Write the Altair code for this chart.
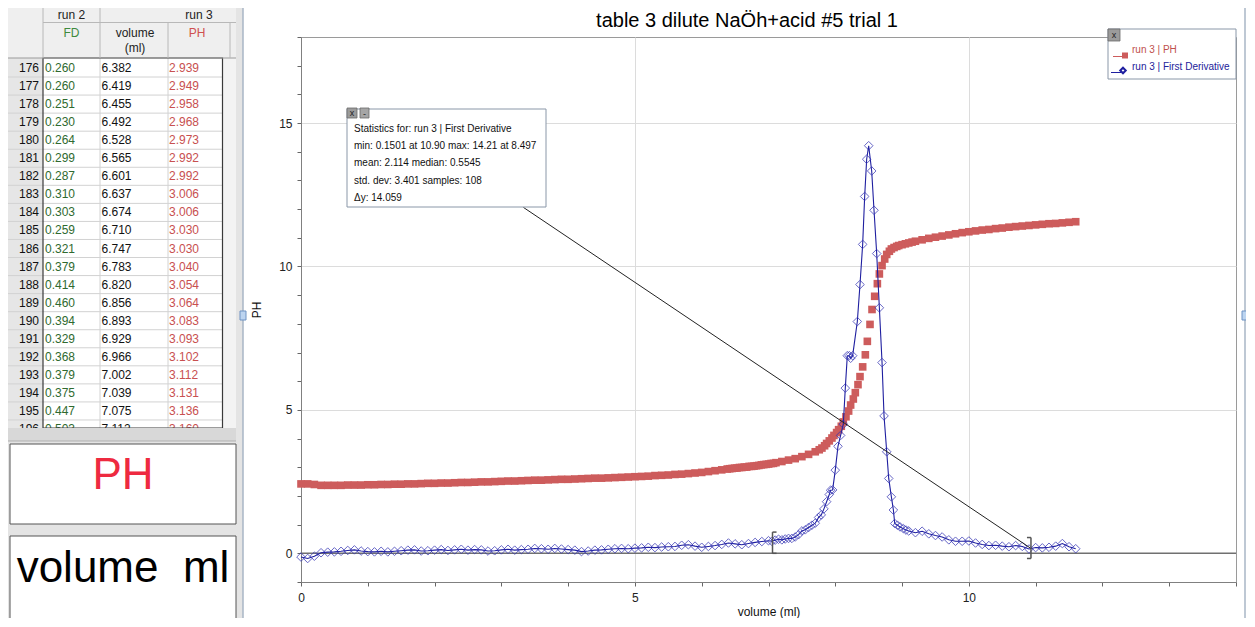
import altair as alt
import pandas as pd

# ---------------- data ----------------
ph_volume = [
    0.0, 0.1, 0.2, 0.3, 0.4, 0.5, 0.6, 0.7, 0.8, 0.9,
    1.0, 1.1, 1.2, 1.3, 1.4, 1.5, 1.6, 1.7, 1.8, 1.9,
    2.0, 2.1, 2.2, 2.3, 2.4, 2.5, 2.6, 2.7, 2.8, 2.9,
    3.0, 3.1, 3.2, 3.3, 3.4, 3.5, 3.6, 3.7, 3.8, 3.9,
    4.0, 4.1, 4.2, 4.3, 4.4, 4.5, 4.6, 4.7, 4.8, 4.9,
    5.0, 5.1, 5.2, 5.3, 5.4, 5.5, 5.6, 5.7, 5.8, 5.9,
    6.0, 6.1, 6.2, 6.3,
    6.382, 6.419, 6.455, 6.492, 6.528, 6.565, 6.601, 6.637, 6.674, 6.710,
    6.747, 6.783, 6.820, 6.856, 6.893, 6.929, 6.966, 7.002, 7.039, 7.075, 7.112,
    7.2, 7.3, 7.4, 7.5, 7.6, 7.7, 7.76, 7.80, 7.84, 7.87, 7.91, 7.95, 7.98,
    8.02, 8.05, 8.09, 8.12, 8.16, 8.20, 8.23, 8.27, 8.30, 8.34, 8.37, 8.41,
    8.45, 8.48, 8.52, 8.55, 8.59, 8.63, 8.66, 8.70, 8.74, 8.77, 8.81, 8.84,
    8.88, 8.92, 8.95, 9.0, 9.05, 9.1, 9.15, 9.2,
    9.3, 9.4, 9.5, 9.6, 9.7, 9.8, 9.9, 10.0, 10.1, 10.2, 10.3, 10.4,
    10.5, 10.6, 10.7, 10.8, 10.9, 11.0, 11.1, 11.2, 11.3, 11.4, 11.5, 11.6,
]
ph_values = [
    2.42, 2.42, 2.40, 2.37, 2.37, 2.37, 2.37, 2.38, 2.38, 2.38,
    2.39, 2.39, 2.40, 2.40, 2.41, 2.41, 2.42, 2.42, 2.43, 2.44,
    2.44, 2.45, 2.45, 2.46, 2.47, 2.47, 2.48, 2.49, 2.49, 2.50,
    2.51, 2.52, 2.52, 2.53, 2.54, 2.55, 2.55, 2.56, 2.57, 2.58,
    2.58, 2.59, 2.60, 2.61, 2.62, 2.62, 2.63, 2.64, 2.65, 2.66,
    2.67, 2.68, 2.69, 2.71, 2.72, 2.73, 2.75, 2.76, 2.78, 2.80,
    2.82, 2.85, 2.88, 2.91,
    2.939, 2.949, 2.958, 2.968, 2.973, 2.992, 2.992, 3.006, 3.006, 3.030,
    3.030, 3.040, 3.054, 3.064, 3.083, 3.093, 3.102, 3.112, 3.131, 3.136, 3.160,
    3.20, 3.25, 3.30, 3.37, 3.45, 3.54, 3.61, 3.67, 3.75, 3.83, 3.92, 4.02, 4.11,
    4.21, 4.31, 4.43, 4.58, 4.76, 4.96, 5.17, 5.38, 5.60, 5.88, 6.16, 6.50,
    6.92, 7.39, 7.98, 8.50, 8.96, 9.40, 9.74, 10.03, 10.26, 10.42, 10.53, 10.61,
    10.66, 10.70, 10.73, 10.76, 10.79, 10.82, 10.85, 10.88,
    10.93, 10.98, 11.02, 11.06, 11.10, 11.14, 11.18, 11.21, 11.24, 11.27, 11.29, 11.32,
    11.34, 11.37, 11.39, 11.41, 11.43, 11.45, 11.47, 11.49, 11.50, 11.52, 11.54, 11.56,
]

fd_volume = [
    0.0, 0.1, 0.2, 0.3, 0.4, 0.5, 0.6, 0.7, 0.8, 0.9,
    1.0, 1.1, 1.2, 1.3, 1.4, 1.5, 1.6, 1.7, 1.8, 1.9,
    2.0, 2.1, 2.2, 2.3, 2.4, 2.5, 2.6, 2.7, 2.8, 2.9,
    3.0, 3.1, 3.2, 3.3, 3.4, 3.5, 3.6, 3.7, 3.8, 3.9,
    4.0, 4.1, 4.2, 4.3, 4.4, 4.5, 4.6, 4.7, 4.8, 4.9,
    5.0, 5.1, 5.2, 5.3, 5.4, 5.5, 5.6, 5.7, 5.8, 5.9,
    6.0, 6.1, 6.2, 6.3, 6.4, 6.5, 6.6, 6.7, 6.8, 6.9, 7.0,
    7.05, 7.1, 7.15, 7.2, 7.25, 7.3, 7.35, 7.4, 7.45, 7.5, 7.55, 7.6, 7.65, 7.7, 7.75,
    7.79, 7.83, 7.87, 7.91, 7.93, 7.96, 8.00, 8.04, 8.08, 8.12, 8.15, 8.18, 8.21,
    8.23, 8.26, 8.33, 8.37, 8.41, 8.44, 8.47, 8.50, 8.545, 8.58, 8.62, 8.66, 8.70,
    8.73, 8.77, 8.80, 8.84, 8.87, 8.89, 8.93, 8.97, 9.02, 9.06,
    9.1, 9.2, 9.3, 9.4, 9.5, 9.6, 9.7, 9.8, 9.9, 10.0,
    10.1, 10.2, 10.3, 10.4, 10.5, 10.6, 10.7, 10.8, 10.9, 11.0,
    11.1, 11.2, 11.3, 11.4, 11.5, 11.6,
]
fd_values = [
    -0.13, -0.18, -0.10, 0.02, 0.04, 0.05, 0.07, 0.10, 0.12, 0.08,
    0.06, 0.05, 0.07, 0.05, 0.07, 0.09, 0.11, 0.12, 0.08, 0.09,
    0.11, 0.13, 0.10, 0.12, 0.14, 0.11, 0.13, 0.12, 0.08, 0.09,
    0.12, 0.14, 0.11, 0.13, 0.14, 0.17, 0.16, 0.14, 0.17, 0.15,
    0.13, 0.11, 0.06, 0.08, 0.11, 0.12, 0.14, 0.16, 0.17, 0.16,
    0.18, 0.19, 0.21, 0.20, 0.22, 0.23, 0.24, 0.28, 0.30, 0.25,
    0.21, 0.24, 0.27, 0.31, 0.36, 0.33, 0.30, 0.34, 0.38, 0.41, 0.44,
    0.42, 0.46, 0.49, 0.47, 0.50, 0.52, 0.52, 0.57, 0.65, 0.78, 0.82, 0.90, 0.98, 1.05, 1.25,
    1.34, 1.55, 1.80, 2.05, 2.20, 2.21, 2.90, 3.73, 4.11, 4.50, 5.76, 6.89, 6.89,
    6.80, 6.89, 8.08, 9.37, 10.77, 12.44, 13.74, 14.21, 13.33, 11.96, 10.45, 8.56, 6.65,
    4.79, 3.54, 2.61, 1.97, 1.51, 1.04, 0.98, 0.92, 0.86, 0.81,
    0.78, 0.72, 0.77, 0.68, 0.62, 0.57, 0.47, 0.42, 0.42, 0.43,
    0.36, 0.31, 0.27, 0.28, 0.25, 0.23, 0.27, 0.24, 0.15, 0.20,
    0.19, 0.21, 0.25, 0.34, 0.23, 0.16,
]

table_rows = [176, 177, 178, 179, 180, 181, 182, 183, 184, 185, 186,
              187, 188, 189, 190, 191, 192, 193, 194, 195, 196]
table_fd = [0.260, 0.260, 0.251, 0.230, 0.264, 0.299, 0.287, 0.310, 0.303, 0.259, 0.321,
            0.379, 0.414, 0.460, 0.394, 0.329, 0.368, 0.379, 0.375, 0.447, 0.503]
table_volume = [6.382, 6.419, 6.455, 6.492, 6.528, 6.565, 6.601, 6.637, 6.674, 6.710, 6.747,
                6.783, 6.820, 6.856, 6.893, 6.929, 6.966, 7.002, 7.039, 7.075, 7.112]
table_ph = [2.939, 2.949, 2.958, 2.968, 2.973, 2.992, 2.992, 3.006, 3.006, 3.030, 3.030,
            3.040, 3.054, 3.064, 3.083, 3.093, 3.102, 3.112, 3.131, 3.136, 3.160]

stats_lines = [
    "Statistics for: run 3 | First Derivative",
    "min: 0.1501 at 10.90 max: 14.21 at 8.497",
    "mean: 2.114 median: 0.5545",
    "std. dev: 3.401 samples: 108",
    "\u0394y: 14.059",
]
stats_start = 7.06
stats_end = 10.93
legend_labels = ["run 3 | PH", "run 3 | First Derivative"]
chart_title = "table 3 dilute Na\u00d6h+acid #5 trial 1"

# ---------------- styles ----------------
FONT = "Liberation Sans"
RED = "#cd5c5c"
NAVY = "#1f1fa0"
W, H = 935, 545

one = pd.DataFrame({"a": [0]})


def rect(x, x2, y, y2, fill, stroke=None, sw=1.0):
    kw = dict(fill=fill)
    if stroke is not None:
        kw.update(stroke=stroke, strokeWidth=sw)
    return alt.Chart(one).mark_rect(**kw).encode(
        x=alt.value(x), x2=alt.value(x2), y=alt.value(y), y2=alt.value(y2))


def hline(x, x2, y, color, sw=1.0):
    return alt.Chart(one).mark_rule(color=color, strokeWidth=sw).encode(
        x=alt.value(x), x2=alt.value(x2), y=alt.value(y))


def vline(x, y, y2, color, sw=1.0):
    return alt.Chart(one).mark_rule(color=color, strokeWidth=sw).encode(
        x=alt.value(x), y=alt.value(y), y2=alt.value(y2))


def label(txt, x, y, size=12, color="#111", align="left", baseline="middle", weight="normal"):
    return alt.Chart(one).mark_text(
        text=txt, font=FONT, fontSize=size, color=color, align=align,
        baseline=baseline, fontWeight=weight).encode(x=alt.value(x), y=alt.value(y))


# ---------------- left panel (table + boxes) ----------------
back = [
    rect(-293, -58, -29, 585, "#e4e4e4"),
    rect(-293, -65, -29, 21, "#efefef"),
    rect(-293, -258, 21, 391, "#e6e6e6"),
    rect(-258, -78.5, 21, 391, "#ffffff"),
    rect(-78.5, -65, 21, 391, "#f3f3f3"),
]

table_df = pd.DataFrame({"row": table_rows, "fd": table_fd,
                         "vol": table_volume, "ph": table_ph})
ty_scale = alt.Scale(domain=[176, 196], range=[31, 392])
sep = alt.Chart(table_df).transform_filter("datum.row < 196").transform_calculate(
    sep="datum.row + 0.5").mark_rule(color="#d2d2d2", strokeWidth=1).encode(
    x=alt.value(-293), x2=alt.value(-78.5),
    y=alt.Y("sep:Q", scale=ty_scale, axis=None))
tbase = alt.Chart(table_df)
rownum = tbase.mark_text(align="right", baseline="middle", font=FONT, fontSize=12,
                         color="#111").encode(
    x=alt.value(-262), y=alt.Y("row:Q", scale=ty_scale, axis=None), text="row:Q")
fdtxt = tbase.mark_text(align="left", baseline="middle", font=FONT, fontSize=12,
                        color="#2f6a2f").encode(
    x=alt.value(-256), y=alt.Y("row:Q", scale=ty_scale, axis=None),
    text=alt.Text("fd:Q", format=".3f"))
voltxt = tbase.mark_text(align="left", baseline="middle", font=FONT, fontSize=12,
                         color="#111").encode(
    x=alt.value(-199.5), y=alt.Y("row:Q", scale=ty_scale, axis=None),
    text=alt.Text("vol:Q", format=".3f"))
phtxt = tbase.mark_text(align="left", baseline="middle", font=FONT, fontSize=12,
                        color="#c85050").encode(
    x=alt.value(-132), y=alt.Y("row:Q", scale=ty_scale, axis=None),
    text=alt.Text("ph:Q", format=".3f"))
table = alt.layer(sep, rownum, fdtxt, voltxt, phtxt)

mid = [
    # column lines in body
    vline(-201, 21, 391, "#d2d2d2"),
    vline(-133, 21, 391, "#d2d2d2"),
    # body border
    rect(-258, -78.5, 21, 391, "transparent", "#3a3a3a", 1.2),
    # header lines
    hline(-258, -65, -14.5, "#b8b8b8"),
    hline(-293, -65, 21, "#9a9a9a"),
    vline(-258, -29, 21, "#b8b8b8"),
    vline(-201, -29, 21, "#b8b8b8"),
    vline(-133, -14.5, 21, "#b8b8b8"),
    vline(-71, -14.5, 21, "#b8b8b8"),
    label("run 2", -229.5, -22, 12, "#222", "center"),
    label("run 3", -102, -22, 12, "#222", "center"),
    label("FD", -229.5, -4, 12, "#3d8a3d", "center"),
    label("volume", -166, -4, 12, "#222", "center"),
    label("(ml)", -166, 11, 12, "#222", "center"),
    label("PH", -104, -4, 12, "#d05050", "center"),
    # gray bar under table
    rect(-293, -65, 391, 404, "#d8d8d8"),
    hline(-293, -65, 404, "#b0b0b0"),
    # text boxes
    rect(-291, -65, 407, 487, "#ffffff", "#555555", 1),
    label("PH", -178, 452, 44, "#ee2a40", "center", "alphabetic"),
    rect(-291, -65, 499, 582, "#ffffff", "#555555", 1),
    label("volume \u00a0ml", -178, 545, 44, "#000000", "center", "alphabetic"),
    # graph panel borders and handles
    vline(-58, -29, 585, "#a9b6c6", 1.5),
    vline(944, -29, 585, "#a9b6c6", 1.5),
    rect(-61, -55, 274, 283, "#bcd4f0", "#6f93c4", 1),
    rect(941, 946, 274, 283, "#bcd4f0", "#6f93c4", 1),
]

# ---------------- main graph ----------------
xs = alt.Scale(domain=[0, 14], nice=False, zero=False)
ys = alt.Scale(domain=[-1, 18], nice=False, zero=False)
x_axis = alt.Axis(
    values=list(range(0, 15)),
    labelExpr="datum.value % 5 === 0 ? datum.label : ''",
    grid=True, gridColor="#dcdcdc",
    gridOpacity={"condition": {"test": "datum.value === 5 || datum.value === 10", "value": 1},
                 "value": 0},
    tickSize=4, tickColor="#666666", domainColor="#808080",
    labelFlush=False, labelOverlap=False, labelPadding=6, labelFontSize=12,
    labelColor="#222222", labelFont=FONT,
    title="volume (ml)", titleFont=FONT, titleFontSize=12, titleFontWeight="normal",
    titleColor="#111111", titlePadding=3)
y_axis = alt.Axis(
    values=list(range(-1, 19)),
    labelExpr="datum.value % 5 === 0 ? datum.label : ''",
    grid=True, gridColor="#dcdcdc",
    gridOpacity={"condition": {"test": "datum.value === 5 || datum.value === 10 || datum.value === 15",
                               "value": 1}, "value": 0},
    tickSize=4, tickColor="#666666", domainColor="#808080",
    labelFlush=False, labelOverlap=False, labelPadding=5, labelFontSize=12,
    labelColor="#222222", labelFont=FONT,
    title="PH", titleFont=FONT, titleFontSize=12, titleFontWeight="normal",
    titleColor="#111111", titlePadding=15)

X = alt.X("volume:Q", scale=xs, axis=x_axis)
Y = alt.Y("value:Q", scale=ys, axis=y_axis)

ph_df = pd.DataFrame({"volume": ph_volume, "value": ph_values})
fd_df = pd.DataFrame({"volume": fd_volume, "value": fd_values})

zero_line = alt.Chart(pd.DataFrame({"value": [0.0]})).mark_rule(
    color="#707070", strokeWidth=1.5).encode(y=Y)
ph_pts = alt.Chart(ph_df).mark_point(shape="square", filled=True, size=58, color=RED,
                                     opacity=1).encode(x=X, y=Y)
fd_line = alt.Chart(fd_df).mark_line(color=NAVY, strokeWidth=1.1).encode(x=X, y=Y)
fd_pts = alt.Chart(fd_df).mark_point(shape="diamond", filled=False, size=74, color="#3434b4",
                                     strokeWidth=1, opacity=0.75).encode(x=X, y=Y)

# connector from the statistics box to the end of the analysed range
conn_df = pd.DataFrame({"volume": [3.33], "value": [12.06],
                        "v2": [stats_end], "y2": [0.17]})
connector = alt.Chart(conn_df).mark_rule(color="#222222", strokeWidth=1).encode(
    x=X, y=Y, x2="v2:Q", y2="y2:Q")

# brackets marking the analysed range
br_df = pd.DataFrame({
    "volume": [stats_start, stats_start, stats_start, stats_end, stats_end - 0.06, stats_end - 0.06],
    "value": [0.0, 0.74, 0.0, -0.18, 0.55, -0.18],
    "v2": [stats_start, stats_start + 0.06, stats_start + 0.06, stats_end, stats_end, stats_end],
    "y2": [0.74, 0.74, 0.0, 0.55, 0.55, -0.18],
})
brackets = alt.Chart(br_df).mark_rule(color="#555555", strokeWidth=1.5).encode(
    x=X, y=Y, x2="v2:Q", y2="y2:Q")

main = alt.layer(zero_line, ph_pts, fd_line, fd_pts, connector, brackets)

# ---------------- annotations ----------------
front = [
    # statistics box
    rect(46, 245, 72, 170, "#ffffff", "#8a97a8", 1),
    rect(46, 56, 71, 81, "#9b9b9b", "#6a6a6a", 0.8),
    label("x", 51, 75.5, 9, "#222", "center"),
    rect(59, 68, 71, 81, "#a5a5a5", "#6a6a6a", 0.8),
    label("-", 63.5, 77, 9, "#222", "center"),
]
for i, line in enumerate(stats_lines):
    front.append(label(line, 53, 92 + i * 17.2, 10, "#111"))

front += [
    # legend
    rect(807, 935, -8, 42, "#ffffff", "#8a97a8", 1),
    rect(807, 819, -8, 4, "#9b9b9b", "#6a6a6a", 0.8),
    label("x", 813, -2.5, 9, "#222", "center"),
    hline(812, 822, 19.5, RED, 1),
    alt.Chart(one).mark_point(shape="square", filled=True, size=36, color=RED, opacity=1).encode(
        x=alt.value(824), y=alt.value(18.5)),
    label(legend_labels[0], 831, 13, 10, "#c0504d"),
    hline(810, 820, 35.5, NAVY, 1),
    alt.Chart(one).mark_point(shape="diamond", filled=False, size=30, color=NAVY, opacity=1).encode(
        x=alt.value(822), y=alt.value(33.5)),
    label(legend_labels[1], 831, 30.3, 10, "#22229a"),
    # chart title
    label(chart_title, 446, -10, 20, "#000000", "center", "alphabetic"),
]

chart = alt.layer(*back, table, *mid, main, *front).resolve_scale(
    y="independent"
).properties(
    width=W, height=H,
    autosize=alt.AutoSizeParams(type="none"),
    padding={"left": 293, "top": 29, "right": 10, "bottom": 36},
    background="white",
).configure_view(
    stroke="#9a9a9a", strokeWidth=1, fill="white"
).configure_text(font=FONT)

chart.save("out.html", embed_options={"renderer": "svg", "actions": False})
